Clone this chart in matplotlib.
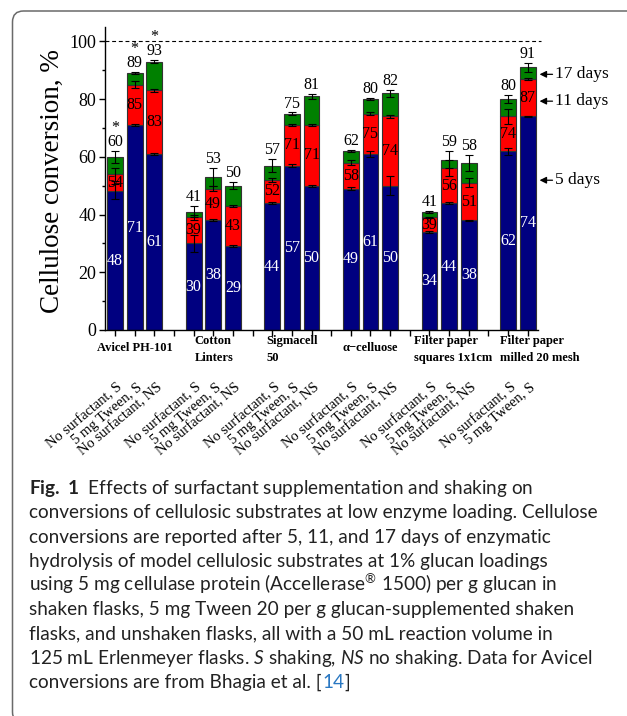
import matplotlib
matplotlib.use("Agg")
import matplotlib.pyplot as plt
import numpy as np
from matplotlib.patches import FancyBboxPatch
from matplotlib.transforms import IdentityTransform
from matplotlib.ticker import MultipleLocator

plt.rcParams['font.family'] = ['Liberation Serif', 'DejaVu Serif']
plt.rcParams['mathtext.fontset'] = 'custom'
plt.rcParams['mathtext.rm'] = 'Lato'
plt.rcParams['mathtext.it'] = 'Lato:italic'
plt.rcParams['mathtext.bf'] = 'Lato:bold'

# substrates and how many conditions each one has
groups = ["Avicel PH-101", "Cotton\nLinters", "Sigmacell\n50", "α−celluose",
          "Filter paper\nsquares 1x1cm", "Filter paper\nmilled 20 mesh"]
group_sizes = [3, 3, 3, 3, 3, 2]
conditions = ["No surfactant, S", "5 mg Tween, S", "No surfactant, NS"]

# cumulative conversion (%) after 5, 11 and 17 days, one entry per bar
day5 = [48, 71, 61, 30, 38, 29, 44, 57, 50, 49, 61, 50, 34, 44, 38, 62, 74]
day11 = [54, 85, 83, 39, 49, 43, 52, 71, 71, 58, 75, 74, 39, 56, 51, 74, 87]
day17 = [60, 89, 93, 41, 53, 50, 57, 75, 81, 62, 80, 82, 41, 59, 58, 80, 91]
err5 = [2.6, 0.3, 0.3, 3.0, 0.3, 0.3, 0.5, 0.5, 0.3, 0.5, 1.2, 3.2, 0.3, 0.3, 0.2, 1.2, 0.3]
err11 = [2.2, 1.3, 0.4, 1.0, 1.0, 0.3, 0.6, 0.4, 0.3, 0.8, 0.5, 0.4, 0.3, 2.8, 1.5, 2.5, 0.3]
err17 = [2.0, 0.4, 0.5, 2.0, 3.2, 1.2, 2.2, 0.4, 0.8, 0.3, 0.3, 1.2, 0.3, 3.0, 2.8, 1.5, 1.5]
starred = [True, True, True] + [False] * 14

day5 = np.array(day5)
day11 = np.array(day11)
day17 = np.array(day17)

blue = '#000080'
red = '#ff0000'
green = '#008000'

# bar positions: one empty slot between substrates
x = []
pos = 1
for n in group_sizes:
    x += list(range(pos, pos + n))
    pos += n + 1
x = np.array(x)

fig = plt.figure(figsize=(6.27, 7.16), dpi=100)
ax = fig.add_axes([104.5 / 627, 386 / 716, 433.5 / 627, 303 / 716])

bw = 0.81
edge = dict(edgecolor='#333333', linewidth=0.8)
ax.bar(x, day5, bw, color=blue, **edge)
ax.bar(x, day11 - day5, bw, bottom=day5, color=red, **edge)
ax.bar(x, day17 - day11, bw, bottom=day11, color=green, **edge)

eb = dict(fmt='none', ecolor='black', elinewidth=0.8, capsize=3, capthick=0.8)
ax.errorbar(x, day5, yerr=err5, **eb)
ax.errorbar(x, day11, yerr=err11, **eb)
ax.errorbar(x, day17, yerr=err17, **eb)

for i in range(len(x)):
    ax.text(x[i], day5[i] / 2, f"{day5[i]}", color='white', fontsize=11.5,
            ha='center', va='center')
    ax.text(x[i], (day5[i] + day11[i]) / 2, f"{day11[i]}", color='black',
            fontsize=11.5, ha='center', va='center')
    top = f"*\n{day17[i]}" if starred[i] else f"{day17[i]}"
    ax.text(x[i], day17[i] + err17[i] + 0.3, top, color='black', fontsize=11.5,
            ha='center', va='bottom', linespacing=0.85)

ax.plot([0.47, 22.67], [100, 100], ls=(0, (3.5, 2.5)), color='black', lw=0.8,
        clip_on=False)

ax.set_xlim(0.47, 22.52)
ax.set_ylim(0, 105)
ax.set_xticks(np.arange(1, 23))
ax.set_xticklabels([])
ax.set_yticks(np.arange(0, 101, 20))
ax.yaxis.set_minor_locator(MultipleLocator(10))
ax.tick_params(axis='y', which='major', length=4.5, width=1, labelsize=13, pad=1.5)
ax.tick_params(axis='y', which='minor', length=2.5, width=1)
ax.tick_params(axis='x', which='major', length=4, width=1)
for s in ['top', 'right']:
    ax.spines[s].set_visible(False)
for s in ['left', 'bottom']:
    ax.spines[s].set_linewidth(1)
ax.set_ylabel("Cellulose conversion, %", fontsize=19.5)
ax.yaxis.set_label_coords(-0.092, 0.49)

# substrate names under the axis
trans = ax.get_xaxis_transform()
label_x = [2, 6.05, 10, 14, 18.2, 22.6]
for gx, name in zip(label_x, groups):
    if "\n" in name:
        ax.text(gx, -0.016, name, transform=trans, fontsize=9, fontweight='bold',
                ha='center', va='top', multialignment='left', linespacing=1.55)
    else:
        ax.text(gx, -0.06, name, transform=trans, fontsize=9, fontweight='bold',
                ha='center', va='center')

# condition labels, rotated
k = 0
for n in group_sizes:
    for j in range(n):
        ax.text(x[k] + 0.1, -0.168, conditions[j], transform=trans, fontsize=10.5,
                rotation=40, rotation_mode='anchor', ha='right', va='top')
        k += 1

# day markers on the right
for lab, yv in [("17 days", 88.6), ("11 days", 79.3), ("5 days", 51.9)]:
    ax.annotate(lab, xy=(22.6, yv), xytext=(23.4, yv), fontsize=12.5,
                ha='left', va='center', annotation_clip=False,
                arrowprops=dict(arrowstyle='-|>', color='black', lw=0.9,
                                shrinkA=0, shrinkB=0, mutation_scale=10))

# frame round the figure and caption
frame = FancyBboxPatch((12.5, -7), 700, 705 + 7, boxstyle="round,pad=0,rounding_size=11",
                       transform=IdentityTransform(), fill=False, edgecolor='#6a6a6a',
                       linewidth=1.1, clip_on=False)
fig.patches.append(frame)

cap = dict(fontsize=13.7, family='Lato', color='#222222', va='baseline', ha='left')
caption = [
    r"$\bf{Fig.\ 1}$  Effects of surfactant supplementation and shaking on",
    "conversions of cellulosic substrates at low enzyme loading. Cellulose",
    "conversions are reported after 5, 11, and 17 days of enzymatic",
    "hydrolysis of model cellulosic substrates at 1% glucan loadings",
    r"using 5 mg cellulase protein (Accellerase$^{\circledR}$ 1500) per g glucan in",
    "shaken flasks, 5 mg Tween 20 per g glucan-supplemented shaken",
    "flasks, and unshaken flasks, all with a 50 mL reaction volume in",
    r"125 mL Erlenmeyer flasks. $\it{S}$ shaking, $\it{NS}$ no shaking. Data for Avicel",
]
x0 = 29
y0 = 494
step = 24.25
for i, line in enumerate(caption):
    fig.text(x0 / 627, (716 - (y0 + i * step)) / 716, line, **cap)

# last line has a blue reference number
renderer = fig.canvas.get_renderer()
yl = (716 - (y0 + 8 * step)) / 716
xp = x0
for piece, col in [("conversions are from Bhagia et al. [", '#222222'), ("14", '#2a78c2'), ("]", '#222222')]:
    t = fig.text(xp / 627, yl, piece, **{**cap, 'color': col})
    xp = t.get_window_extent(renderer).x1 + 0.5

fig.savefig("out.png", dpi=100)
